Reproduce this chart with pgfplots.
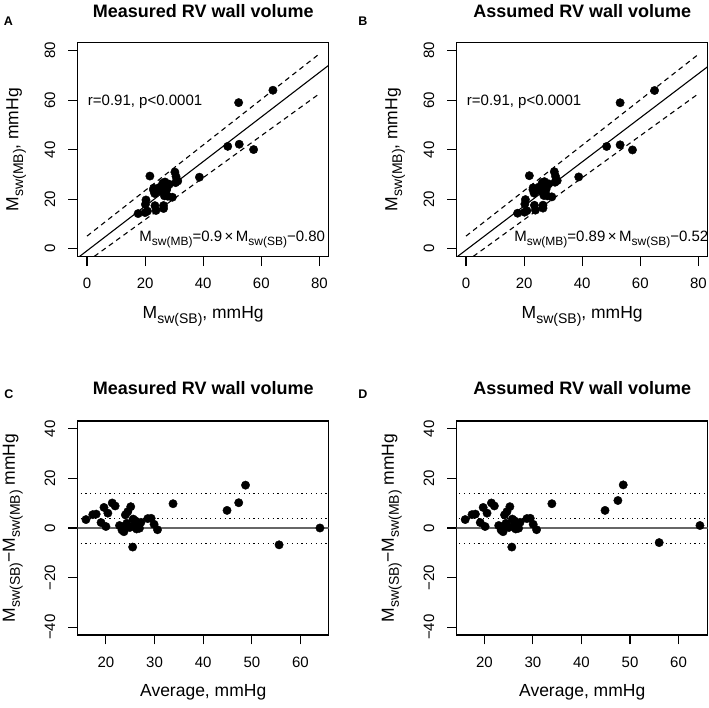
\documentclass[border=0pt]{standalone}
\usepackage{fontspec}
\setmainfont{Liberation Sans}
\usepackage{graphicx}
\usepackage{pgfplots}
\usepackage{pgfplotstable}
\pgfplotsset{compat=1.18}
\newcommand{\sbs}[1]{\raisebox{-0.28em}{\scalebox{0.8}{#1}}}
\newcommand{\Msw}[1]{M\sbs{sw(#1)}}

% Panel C (average, difference) and A (SB, MB)
\pgfplotstableread{
avg diff sb mb
15.9 3.4 17.6 14.2
17.3 5.4 20.0 14.6
18.0 5.6 20.8 15.2
19.0 2.2 20.1 17.9
19.6 8.3 23.75 15.45
20.0 0.6 20.3 19.7
20.4 6.0 23.4 17.4
21.3 10.1 26.35 16.25
21.9 8.9 26.35 17.45
22.8 1.0 23.3 22.3
23.3 -0.8 22.9 23.7
23.6 0.5 23.85 23.35
24.0 5.3 26.65 21.35
24.5 6.6 27.8 21.2
25.1 8.6 29.4 20.8
24.3 1.9 25.25 23.35
24.9 0.2 25.0 24.8
25.6 3.6 27.4 23.8
25.9 1.2 26.5 25.3
26.3 -0.4 26.1 26.5
26.8 1.6 27.6 26.0
26.9 -0.1 26.85 26.95
25.5 -7.7 21.65 29.35
27.2 2.3 28.35 26.05
28.6 3.8 30.5 26.7
29.3 3.9 31.25 27.35
29.9 1.5 30.65 29.15
30.6 -0.7 30.25 30.95
33.8 9.8 38.7 28.9
44.9 7.1 48.45 41.35
47.3 10.2 52.4 42.2
48.7 17.3 57.35 40.05
55.6 -6.8 52.2 59.0
64.0 0.0 64.0 64.0
23.7 -1.5 22.95 24.45
26.0 3.0 27.5 24.5
}\dataMeasured

% Panel D (average, difference) and B (SB, MB)
\pgfplotstableread{
avg diff sb mb
16.05 3.4 17.75 14.35
17.45 5.4 20.15 14.75
18.15 5.6 20.95 15.35
19.15 2.2 20.25 18.05
19.75 8.3 23.9 15.6
20.15 0.6 20.45 19.85
20.55 6.0 23.55 17.55
21.45 10.1 26.5 16.4
22.05 8.9 26.5 17.6
22.95 1.0 23.45 22.45
23.45 -0.8 23.05 23.85
23.75 0.5 24.0 23.5
24.15 5.3 26.8 21.5
24.65 6.6 27.95 21.35
25.25 8.6 29.55 20.95
24.45 1.9 25.4 23.5
25.05 0.2 25.15 24.95
25.75 3.6 27.55 23.95
26.05 1.2 26.65 25.45
26.45 -0.4 26.25 26.65
26.95 1.6 27.75 26.15
27.05 -0.1 27.0 27.1
25.65 -7.7 21.8 29.5
27.35 2.3 28.5 26.2
28.75 3.8 30.65 26.85
29.45 3.9 31.4 27.5
30.05 1.5 30.8 29.3
30.75 -0.7 30.4 31.1
33.9 9.8 38.8 29.0
44.85 7.1 48.4 41.3
47.5 11.1 53.05 41.95
48.6 17.4 57.3 39.9
56.0 -5.9 53.05 58.95
64.4 1.0 64.9 63.9
23.85 -1.5 23.1 24.6
26.15 3.0 27.65 24.65
}\dataAssumed

\pgfplotsset{
  rplot/.style={
    scale only axis, width=251bp, height=214bp,
    axis line style={line width=1.1bp},
    every tick/.style={black, line width=1.1bp},
    tick align=outside, major tick length=9.4bp,
    tick pos=left,
    /pgf/number format/assume math mode=true,
    tick label style={font=\fontsize{15bp}{18bp}\selectfont},
    yticklabels={},
    xticklabel style={anchor=north, inner sep=0pt},
    xticklabel shift=12bp,
    label style={font=\fontsize{17.5bp}{20bp}\selectfont, inner sep=0pt},
    title style={font=\bfseries\fontsize{18bp}{21bp}\selectfont, anchor=base, inner sep=0pt},
    xlabel style={at={(axis description cs:0.5,-0.2874)}, anchor=base},
    ylabel style={at={(axis description cs:-0.2367,0.5)}, anchor=base},
  },
  pts/.style={only marks, mark=*, mark size=4.2bp, black},
  dsh/.style={black, line width=1.1bp, dash pattern=on 5bp off 4bp},
  dot/.style={black, line width=1.2bp, dash pattern=on 1.2bp off 3.6bp},
}
\tikzset{ylab/.style={rotate=90, anchor=base, inner sep=0pt, font=\fontsize{15bp}{18bp}\selectfont}}

\begin{document}
\begin{tikzpicture}[x=1bp,y=1bp]
\useasboundingbox (0,0) rectangle (709,708);

% ---------- A ----------
\begin{axis}[rplot, at={(77.7bp,451.3bp)}, anchor=south west,
  xmin=-3.2, xmax=83.2, ymin=-3.2, ymax=83.2,
  xtick={0,20,40,60,80}, ytick={0,20,40,60,80},
  title={Measured RV wall volume},
  title style={at={(axis description cs:0.5,1.09)}},
  xlabel={\Msw{SB}, mmHg}, ylabel={\Msw{MB}, mmHg}]
\addplot[pts] table[x=sb, y=mb]{\dataMeasured};
\addplot[black, line width=1.1bp] coordinates {(-5,-5.3) (90,80.2)};
\addplot[dsh] coordinates {(0,5.1) (80,78.7)};
\addplot[dsh] coordinates {(0,-5.2) (80,62.6)};
\node[anchor=base, font=\fontsize{15bp}{18bp}\selectfont, inner sep=0pt] at (axis cs:20,58) {r=0.91, p<0.0001};
\node[anchor=base, font=\fontsize{15bp}{18bp}\selectfont, inner sep=0pt] at (axis cs:50,2.9) {\Msw{MB}=0.9\,×\,\Msw{SB}−0.80};
\end{axis}

% ---------- B ----------
\begin{axis}[rplot, at={(456.7bp,451.3bp)}, anchor=south west,
  xmin=-3.2, xmax=83.2, ymin=-3.2, ymax=83.2,
  xtick={0,20,40,60,80}, ytick={0,20,40,60,80},
  title={Assumed RV wall volume},
  title style={at={(axis description cs:0.5,1.09)}},
  xlabel={\Msw{SB}, mmHg}, ylabel={\Msw{MB}, mmHg}]
\addplot[pts] table[x=sb, y=mb]{\dataAssumed};
\addplot[black, line width=1.1bp] coordinates {(-5,-4.97) (90,79.58)};
\addplot[dsh] coordinates {(0,5.1) (80,78.5)};
\addplot[dsh] coordinates {(0,-5.2) (80,62.6)};
\node[anchor=base, font=\fontsize{15bp}{18bp}\selectfont, inner sep=0pt] at (axis cs:20,58) {r=0.91, p<0.0001};
\node[anchor=base, font=\fontsize{15bp}{18bp}\selectfont, inner sep=0pt] at (axis cs:50,2.9) {\Msw{MB}=0.89\,×\,\Msw{SB}−0.52};
\end{axis}

% ---------- C ----------
\begin{axis}[rplot, at={(77.7bp,73bp)}, anchor=south west,
  xmin=14.2, xmax=65.8, ymin=-43.2, ymax=43.2,
  xtick={20,30,40,50,60}, ytick={-40,-20,0,20,40},
  title={Measured RV wall volume},
  title style={at={(axis description cs:0.5,1.094)}},
  xlabel={Average, mmHg}, ylabel={\Msw{SB}−\Msw{MB} mmHg},
  ylabel style={at={(axis description cs:-0.25,0.5)}}]
\addplot[color={rgb,1:red,0.4;green,0.4;blue,0.4}, line width=2.2bp] coordinates {(0,0) (80,0)};
\addplot[dot] coordinates {(0,13.8) (80,13.8)};
\addplot[dot] coordinates {(0,3.76) (80,3.76)};
\addplot[dot] coordinates {(0,-6.4) (80,-6.4)};
\addplot[pts] table[x=avg, y=diff]{\dataMeasured};
\end{axis}

% ---------- D ----------
\begin{axis}[rplot, at={(456.7bp,73bp)}, anchor=south west,
  xmin=14.3, xmax=66.0, ymin=-43.2, ymax=43.2,
  xtick={20,30,40,50,60}, ytick={-40,-20,0,20,40},
  title={Assumed RV wall volume},
  title style={at={(axis description cs:0.5,1.094)}},
  xlabel={Average, mmHg}, ylabel={\Msw{SB}−\Msw{MB} mmHg},
  ylabel style={at={(axis description cs:-0.25,0.5)}}]
\addplot[color={rgb,1:red,0.4;green,0.4;blue,0.4}, line width=2.2bp] coordinates {(0,0) (80,0)};
\addplot[dot] coordinates {(0,13.8) (80,13.8)};
\addplot[dot] coordinates {(0,3.8) (80,3.8)};
\addplot[dot] coordinates {(0,-6.3) (80,-6.3)};
\addplot[pts] table[x=avg, y=diff]{\dataAssumed};
\end{axis}

% y tick labels (rotated, as in R)
\foreach \yy/\lab in {459.23/0, 508.76/20, 558.30/40, 607.84/60, 657.38/80} {
  \node[ylab] at (55.2,\yy) {\lab};
  \node[ylab] at (434.2,\yy) {\lab};
}
\foreach \yy/\lab in {80.93/−40, 130.46/−20, 180.0/0, 229.54/20, 279.07/40} {
  \node[ylab] at (55.2,\yy) {\lab};
  \node[ylab] at (434.2,\yy) {\lab};
}

% panel letters
\node[font=\bfseries\fontsize{12.5bp}{14bp}\selectfont] at (8.3,686.8) {A};
\node[font=\bfseries\fontsize{12.5bp}{14bp}\selectfont] at (362.8,686.8) {B};
\node[font=\bfseries\fontsize{12.5bp}{14bp}\selectfont] at (9,314) {C};
\node[font=\bfseries\fontsize{12.5bp}{14bp}\selectfont] at (363,314) {D};
\end{tikzpicture}
\end{document}
